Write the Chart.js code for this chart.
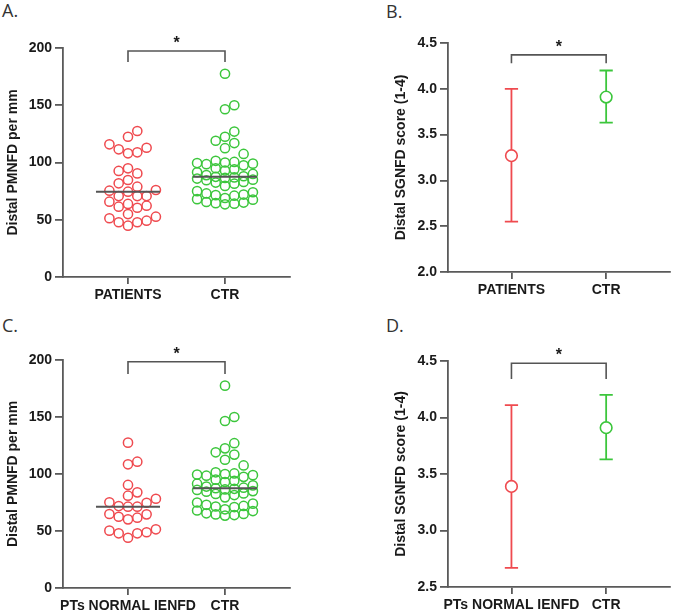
<!DOCTYPE html>
<html>
<head>
<meta charset="utf-8">
<script src="https://cdn.jsdelivr.net/npm/chart.js@4/dist/chart.umd.min.js"></script>
<style>
body { margin: 0; background: #fff; width: 677px; height: 613px; position: relative; overflow: hidden; }
canvas { position: absolute; }
.tag { position: absolute; font-family: "Open Sans", sans-serif; font-size: 18px; color: #333; }
</style>
</head>
<body>
<div class="tag" style="left:2px;top:-2px">A.</div>
<div class="tag" style="left:386px;top:-1px">B.</div>
<div class="tag" style="left:2px;top:313px">C.</div>
<div class="tag" style="left:386px;top:313px">D.</div>
<canvas id="chartA" width="338" height="306" style="left:0;top:0"></canvas>
<canvas id="chartB" width="338" height="306" style="left:339px;top:0"></canvas>
<canvas id="chartC" width="338" height="306" style="left:0;top:307px"></canvas>
<canvas id="chartD" width="338" height="306" style="left:339px;top:307px"></canvas>
<script>
// groups
const groupsTop = ['PATIENTS', 'CTR'];
const groupsBottom = ['PTs NORMAL IENFD', 'CTR'];

// distal PMNFD per mm, one value per subject
const pmnfdPatients = [127.5, 122.5, 115.9, 108.9, 108.0, 111.5, 112.9, 90.5, 92.6, 94.9,
  81.8, 78.9, 84.7, 70.7, 70.7, 74.5, 70.7, 75.4, 76.0, 63.8, 62.3, 61.4, 60.5, 65.8,
  55.0, 49.2, 52.7, 51.3, 47.8, 44.8, 47.8];
const pmnfdNormalIenfd = [127.5, 110.8, 108.5, 90.4, 83.9, 81.0, 78.3, 74.8, 75.2, 71.3,
  71.9, 71.3, 64.9, 61.7, 60.2, 62.5, 64.6, 48.0, 51.5, 48.0, 50.3, 44.1, 48.9];
const pmnfdControls = [177.5, 150.0, 146.5, 127.0, 122.5, 119.0, 117.0, 112.5, 107.5, 101.5,
  100.5, 100.0, 99.5, 99.0, 98.5, 97.5, 95.0, 94.0, 93.0, 91.5, 90.0, 89.0, 88.0, 87.5,
  87.0, 86.5, 86.0, 85.0, 84.5, 83.0, 82.5, 81.5, 79.5, 75.0, 74.0, 73.0, 72.0, 71.5,
  71.0, 69.0, 68.0, 67.5, 65.5, 65.0, 64.5, 64.0, 63.5];

// distal SGNFD score, mean and range per group
const sgnfdTopMean = [3.27, 3.91];
const sgnfdTopLow = [2.55, 3.63];
const sgnfdTopHigh = [4.0, 4.2];
const sgnfdBottomMean = [3.39, 3.91];
const sgnfdBottomLow = [2.67, 3.63];
const sgnfdBottomHigh = [4.11, 4.2];

// y ticks
const pmnfdTicks = [0, 50, 100, 150, 200];
const sgnfdTicksTop = [2.0, 2.5, 3.0, 3.5, 4.0, 4.5];
const sgnfdTicksBottom = [2.5, 3.0, 3.5, 4.0, 4.5];

const RED = '#ef4a4f';
const GREEN = '#3cc63c';
const AXIS = '#5a5a5a';
const TEXT = '#1a1a1a';
const FONT = '"Liberation Sans", Arial, sans-serif';

// spread points sideways into at most 7 columns (beeswarm)
function swarm(values, center) {
  const pxY = 1.145, pxX = 97, step = 9.3, d = 9.3;
  const cols = [0, 1, -1, 2, -2, 3, -3];
  const placed = [];
  values.slice().sort((a, b) => a - b).forEach(v => {
    let best = 0, bestDist = -1;
    for (const col of cols) {
      let near = Infinity;
      placed.forEach(p => {
        const dx = (p.col - col) * step, dy = (p.v - v) * pxY;
        near = Math.min(near, Math.sqrt(dx * dx + dy * dy));
      });
      if (near >= d) { best = col; bestDist = near; break; }
      if (near > bestDist) { best = col; bestDist = near; }
    }
    placed.push({ v: v, col: best });
  });
  return placed.map(p => ({ x: center + p.col * step / pxX, y: p.v }));
}

function median(values) {
  const s = values.slice().sort((a, b) => a - b);
  const m = Math.floor(s.length / 2);
  return s.length % 2 ? s[m] : (s[m - 1] + s[m]) / 2;
}

function lineSet(points, color, width) {
  return { type: 'scatter', data: points, showLine: true, borderColor: color,
    borderWidth: width, pointRadius: 0, fill: false, order: 1 };
}

function swarmSets(values, center, color) {
  const med = median(values);
  return [
    Object.assign(lineSet([{ x: center - 0.33, y: med }, { x: center + 0.33, y: med }], '#555', 2), { order: 0 }),
    { type: 'scatter', data: swarm(values, center), pointRadius: 4.6, borderWidth: 1.5,
      borderColor: color, backgroundColor: 'rgba(0,0,0,0)', order: 1 }
  ];
}

function errorSets(mean, low, high, center, color) {
  const cap = 0.07;
  return [
    lineSet([{ x: center, y: low }, { x: center, y: high }], color, 1.8),
    lineSet([{ x: center - cap, y: high }, { x: center + cap, y: high }], color, 1.8),
    lineSet([{ x: center - cap, y: low }, { x: center + cap, y: low }], color, 1.8),
    { type: 'scatter', data: [{ x: center, y: mean }], pointRadius: 5.8, borderWidth: 1.6,
      borderColor: color, backgroundColor: '#fff', order: 0 }
  ];
}

// significance bracket with star
Chart.register({
  id: 'bracket',
  afterDraw(chart, args, opts) {
    if (!opts || opts.top === undefined) return;
    const ctx = chart.ctx, x = chart.scales.x, y = chart.scales.y;
    const x1 = x.getPixelForValue(1), x2 = x.getPixelForValue(2);
    const yt = y.getPixelForValue(opts.top), yd = y.getPixelForValue(opts.drop);
    ctx.save();
    ctx.strokeStyle = '#555';
    ctx.lineWidth = 1.6;
    ctx.beginPath();
    ctx.moveTo(x1, yd); ctx.lineTo(x1, yt); ctx.lineTo(x2, yt); ctx.lineTo(x2, yd);
    ctx.stroke();
    ctx.fillStyle = TEXT;
    ctx.font = 'bold 16px ' + FONT;
    ctx.textAlign = 'center';
    ctx.textBaseline = 'alphabetic';
    ctx.fillText('*', (x1 + x2) / 2, yt - 3);
    ctx.restore();
  }
});

function makeChart(id, datasets, cfg) {
  const ticks = cfg.ticks;
  return new Chart(document.getElementById(id), {
    type: 'scatter',
    data: { datasets: datasets },
    options: {
      responsive: false,
      animation: false,
      events: [],
      layout: { padding: { left: cfg.padLeft, top: cfg.padTop, right: cfg.padRight, bottom: 0 } },
      plugins: {
        legend: { display: false },
        tooltip: { enabled: false },
        bracket: cfg.bracket
      },
      scales: {
        x: {
          type: 'linear', min: 0.33, max: 2.67,
          afterBuildTicks: s => { s.ticks = [{ value: 1 }, { value: 2 }]; },
          afterFit: s => { s.height = cfg.xHeight; },
          ticks: { autoSkip: false, maxRotation: 0, color: TEXT, padding: 3,
            font: { family: FONT, weight: 'bold', size: 14 },
            callback: v => cfg.labels[Math.round(v) - 1] },
          grid: { drawOnChartArea: false, drawTicks: true, tickLength: 7, color: AXIS, lineWidth: 1.8 },
          border: { display: true, color: AXIS, width: 1.8 }
        },
        y: {
          min: ticks[0], max: ticks[ticks.length - 1],
          afterBuildTicks: s => { s.ticks = ticks.map(v => ({ value: v })); },
          afterFit: s => { s.width = cfg.yWidth; },
          ticks: { color: TEXT, padding: 3,
            font: { family: FONT, weight: 'bold', size: 14 },
            callback: v => cfg.decimals ? v.toFixed(1) : String(v) },
          grid: { drawOnChartArea: false, drawTicks: true, tickLength: 8, color: AXIS, lineWidth: 1.8 },
          border: { display: true, color: AXIS, width: 1.8 },
          title: { display: true, text: cfg.title, color: TEXT, padding: { top: 5, bottom: 4 },
            font: { family: FONT, weight: 'bold', size: 14 } }
        }
      }
    }
  });
}

makeChart('chartA',
  swarmSets(pmnfdPatients, 1, RED).concat(swarmSets(pmnfdControls, 2, GREEN)),
  { labels: groupsTop, ticks: pmnfdTicks, title: 'Distal PMNFD per mm', decimals: false,
    padLeft: 0, padTop: 48, padRight: 48, yWidth: 63, xHeight: 29,
    bracket: { top: 197.4, drop: 187.8 } });

makeChart('chartB',
  errorSets(sgnfdTopMean[0], sgnfdTopLow[0], sgnfdTopHigh[0], 1, RED)
    .concat(errorSets(sgnfdTopMean[1], sgnfdTopLow[1], sgnfdTopHigh[1], 2, GREEN)),
  { labels: groupsTop, ticks: sgnfdTicksTop, title: 'Distal SGNFD score (1-4)', decimals: true,
    padLeft: 49, padTop: 43, padRight: 2, yWidth: 60, xHeight: 34,
    bracket: { top: 4.37, drop: 4.28 } });

makeChart('chartC',
  swarmSets(pmnfdNormalIenfd, 1, RED).concat(swarmSets(pmnfdControls, 2, GREEN)),
  { labels: groupsBottom, ticks: pmnfdTicks, title: 'Distal PMNFD per mm', decimals: false,
    padLeft: 0, padTop: 53, padRight: 48, yWidth: 63, xHeight: 25,
    bracket: { top: 198.5, drop: 187.7 } });

makeChart('chartD',
  errorSets(sgnfdBottomMean[0], sgnfdBottomLow[0], sgnfdBottomHigh[0], 1, RED)
    .concat(errorSets(sgnfdBottomMean[1], sgnfdBottomLow[1], sgnfdBottomHigh[1], 2, GREEN)),
  { labels: groupsBottom, ticks: sgnfdTicksBottom, title: 'Distal SGNFD score (1-4)', decimals: true,
    padLeft: 49, padTop: 54, padRight: 2, yWidth: 60, xHeight: 26,
    bracket: { top: 4.48, drop: 4.34 } });
</script>
</body>
</html>
